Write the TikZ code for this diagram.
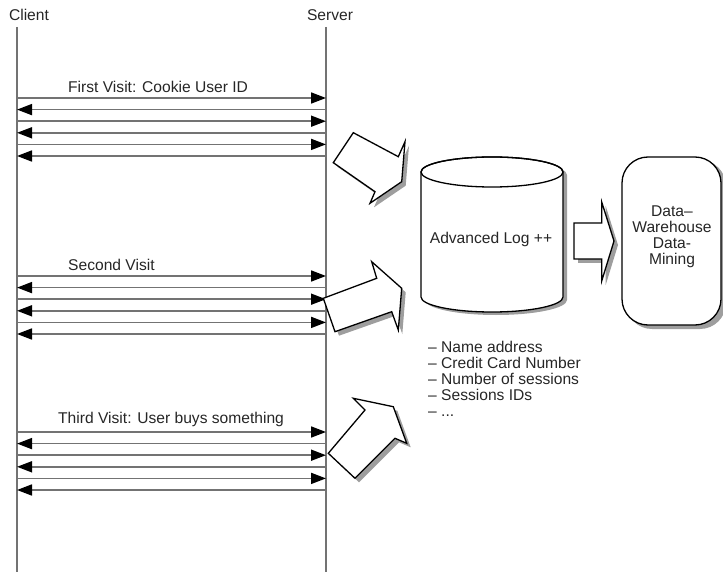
\documentclass[tikz,border=0pt]{standalone}
\usepackage{fontspec}
\setmainfont{Liberation Sans}
\usetikzlibrary{arrows.meta}

\definecolor{linegray}{gray}{0.45}
\definecolor{shade}{gray}{0.62}

\begin{document}
\begin{tikzpicture}[x=1pt,y=-1pt,
  font=\fontsize{15.6}{16}\selectfont,
  every node/.style={inner sep=0pt,text=black!85},
  lifeline/.style={draw=linegray,line width=1.7pt},
  msg/.style={draw=linegray,line width=1.7pt,
    -{Triangle[length=15pt,width=11pt,color=black]}},
  outline/.style={draw=black,line width=1.3pt,fill=white,line join=miter},
  shadowfill/.style={fill=shade,draw=none}
]
\useasboundingbox (0,0) rectangle (723,572);

% lifelines
\node (client) at (29,15) {Client};
\node (server) at (330,15) {Server};
\coordinate (cTop) at (17,27);
\coordinate (cBot) at (17,572);
\coordinate (sTop) at (326,27);
\coordinate (sBot) at (326,572);
\draw[lifeline] (cTop) -- (cBot);
\draw[lifeline] (sTop) -- (sBot);

% message exchanges of the three visits
\foreach \g/\ya in {1/98,2/276,3/432}{
  \foreach \k in {0,...,5}{
    \coordinate (c\g\k) at (17,\ya+\k*11.6);
    \coordinate (s\g\k) at (326,\ya+\k*11.6);
  }
  \foreach \k in {0,2,4}{\draw[msg] (c\g\k) -- (s\g\k);}
  \foreach \k in {1,3,5}{\draw[msg] (s\g\k) -- (c\g\k);}
}
\node[anchor=west] (v1) at (68,87) {First Visit: Cookie User ID};
\node[anchor=west] (v2) at (68,265) {Second Visit};
\node[anchor=west] (v3) at (58,419) {Third Visit: User buys something};

% block arrows towards the log
\def\arrowA{(353.3,132.7) -- (398.3,156.7) -- (405,141.7) -- (401.7,181.7) -- (370,203.3) -- (375,191.7) -- (333.3,162.7) -- cycle}
\def\arrowB{(323.3,298.3) -- (376.7,278.3) -- (371.7,261.7) -- (401.7,288.3) -- (398.3,330) -- (391.7,311.7) -- (335,331.7) -- cycle}
\def\arrowC{(328.3,453.3) -- (365,410) -- (353.3,398.3) -- (393.3,406.7) -- (406.7,443.3) -- (395,438.3) -- (355,478.3) -- cycle}
\def\arrowD{(574,223) -- (601.7,223) -- (601.7,202) -- (614,241) -- (601.7,281) -- (601.7,259) -- (574,259) -- cycle}
\foreach \shape in {\arrowA,\arrowB,\arrowC,\arrowD}{
  \path[shadowfill,shift={(4,4)}] \shape;
  \path[outline] \shape;
}

% advanced log cylinder
\def\cylbody{(421,172) -- (421,297) arc[start angle=180,end angle=0,x radius=71,y radius=15] -- (563,172) arc[start angle=0,end angle=-180,x radius=71,y radius=15] -- cycle}
\path[shadowfill,shift={(4,3)}] \cylbody;
\path[outline] \cylbody;
\draw[line width=1.3pt] (492,172) ellipse[x radius=71,y radius=15];
\node (log) at (491,239) {Advanced Log ++};

% data warehouse box
\path[shadowfill,rounded corners=26pt] (626,160) rectangle (726,329);
\path[outline,rounded corners=26pt] (622,157) rectangle (721,325);
\node[align=center] (dw) at (672,237) {Data–\\Warehouse\\Data-\\Mining};

% logged attributes
\node[anchor=north west,align=left] (attrs) at (428,341)
  {– Name address\\– Credit Card Number\\– Number of sessions\\– Sessions IDs\\– ...};
\end{tikzpicture}
\end{document}
